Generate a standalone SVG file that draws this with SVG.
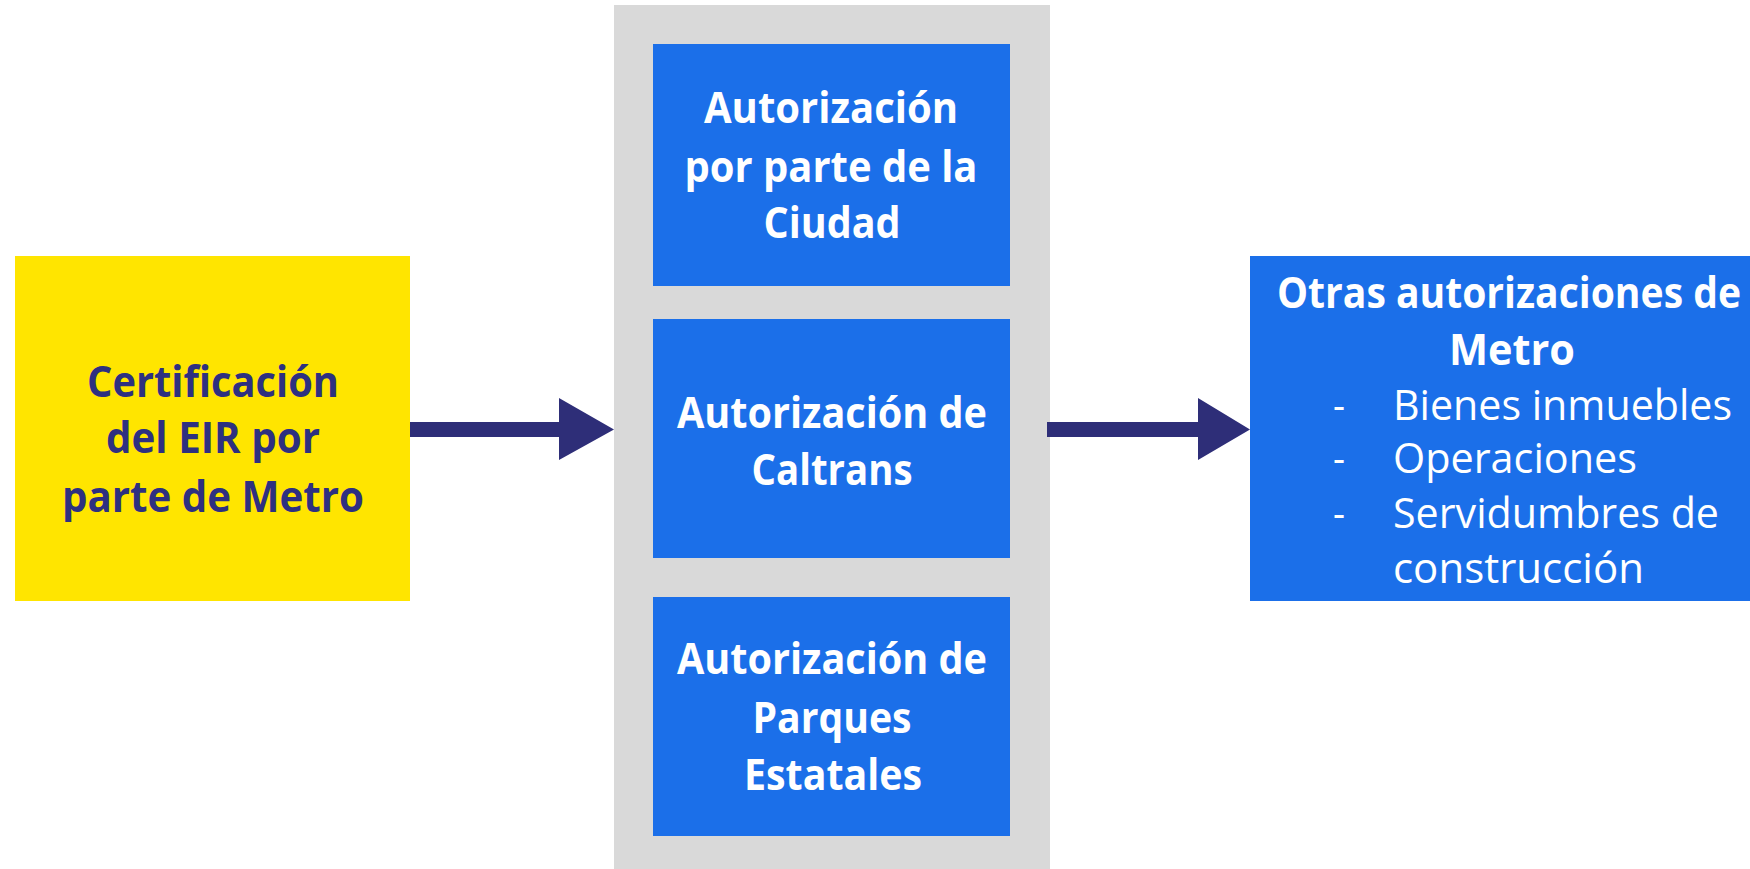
<svg xmlns="http://www.w3.org/2000/svg" width="1750" height="869" viewBox="0 0 1750 869">
<style>
.b{font-family:"Open Sans","Noto Sans","Liberation Sans",sans-serif;font-weight:700;font-size:43px}
.r{font-family:"Open Sans","Noto Sans","Liberation Sans",sans-serif;font-weight:400;font-size:42px;fill:#ffffff}
.w{fill:#ffffff}
.n{fill:#2E3080}
.blue{fill:#1B6FE9}
.arrow{fill:#2E2E78}
</style>
<rect x="0" y="0" width="1750" height="869" fill="#ffffff"/>
<g id="panel">
<rect x="614" y="5" width="436" height="864" fill="#D9D9D9"/>
</g>
<g id="node-certificacion">
<rect x="15" y="256" width="395" height="345" fill="#FFE500"/>
<text class="b n" x="213" y="397" text-anchor="middle" textLength="252" lengthAdjust="spacingAndGlyphs">Certificación</text>
<text class="b n" x="213" y="453" text-anchor="middle" textLength="214" lengthAdjust="spacingAndGlyphs">del EIR por</text>
<text class="b n" x="213" y="512" text-anchor="middle" textLength="302" lengthAdjust="spacingAndGlyphs">parte de Metro</text>
</g>
<g id="node-ciudad">
<rect class="blue" x="653" y="44" width="357" height="242"/>
<text class="b w" x="831" y="123" text-anchor="middle" textLength="254" lengthAdjust="spacingAndGlyphs">Autorización</text>
<text class="b w" x="831" y="182" text-anchor="middle" textLength="293" lengthAdjust="spacingAndGlyphs">por parte de la</text>
<text class="b w" x="832" y="238" text-anchor="middle" textLength="137" lengthAdjust="spacingAndGlyphs">Ciudad</text>
</g>
<g id="node-caltrans">
<rect class="blue" x="653" y="319" width="357" height="239"/>
<text class="b w" x="832" y="428" text-anchor="middle" textLength="310" lengthAdjust="spacingAndGlyphs">Autorización de</text>
<text class="b w" x="832" y="485" text-anchor="middle" textLength="161" lengthAdjust="spacingAndGlyphs">Caltrans</text>
</g>
<g id="node-parques">
<rect class="blue" x="653" y="597" width="357" height="239"/>
<text class="b w" x="832" y="674" text-anchor="middle" textLength="310" lengthAdjust="spacingAndGlyphs">Autorización de</text>
<text class="b w" x="832" y="733" text-anchor="middle" textLength="159" lengthAdjust="spacingAndGlyphs">Parques</text>
<text class="b w" x="833" y="790" text-anchor="middle" textLength="178" lengthAdjust="spacingAndGlyphs">Estatales</text>
</g>
<g id="node-otras">
<rect class="blue" x="1250" y="256" width="500" height="345"/>
<g transform="translate(1277,308) scale(0.8,1)">
<text class="b w" x="0" y="0" font-size="42" textLength="580" lengthAdjust="spacingAndGlyphs">Otras autorizaciones de</text>
</g>
<text class="b w" x="1449" y="365" font-size="42" textLength="126" lengthAdjust="spacingAndGlyphs">Metro</text>
<text class="r" x="1333" y="420" textLength="12" lengthAdjust="spacingAndGlyphs">-</text>
<text class="r" x="1393" y="420" textLength="339" lengthAdjust="spacingAndGlyphs">Bienes inmuebles</text>
<text class="r" x="1333" y="473" textLength="12" lengthAdjust="spacingAndGlyphs">-</text>
<text class="r" x="1393" y="473" textLength="244" lengthAdjust="spacingAndGlyphs">Operaciones</text>
<text class="r" x="1333" y="528" textLength="12" lengthAdjust="spacingAndGlyphs">-</text>
<text class="r" x="1393" y="528" textLength="326" lengthAdjust="spacingAndGlyphs">Servidumbres de</text>
<text class="r" x="1393" y="583" textLength="251" lengthAdjust="spacingAndGlyphs">construcción</text>
</g>
<g id="connectors">
<polygon class="arrow" points="410,422 559,422 559,398 614,429.5 559,460 559,437 410,437"/>
<polygon class="arrow" points="1047,422 1198,422 1198,398 1250,429.5 1198,460 1198,437 1047,437"/>
</g>
</svg>
